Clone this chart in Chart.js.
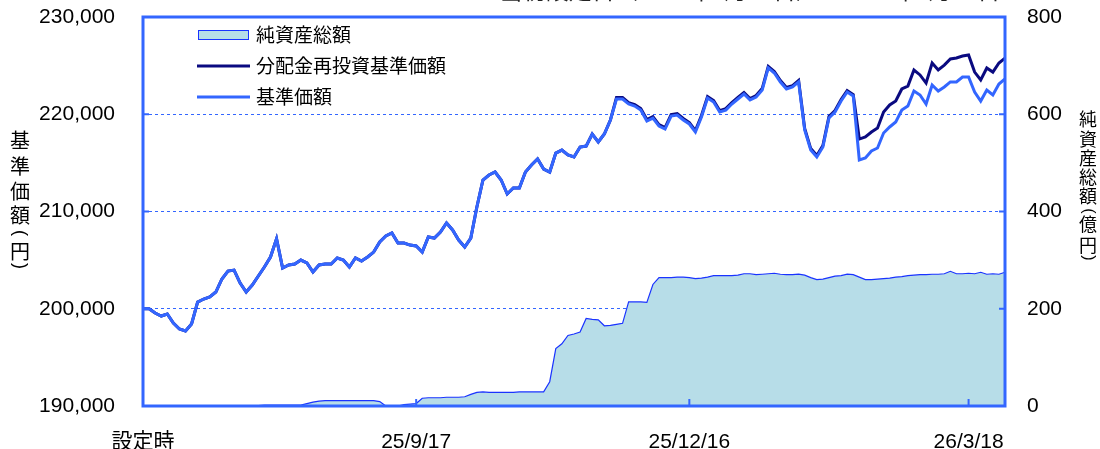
<!DOCTYPE html>
<html>
<head>
<meta charset="utf-8">
<script src="https://cdn.jsdelivr.net/npm/chart.js@4.4.1/dist/chart.umd.min.js"></script>
<style>
  html, body { margin: 0; padding: 0; background: #fff; }
  #wrap { width: 1100px; height: 449px; }
</style>
</head>
<body>
<div id="wrap"><canvas id="chart" width="1100" height="449"></canvas></div>
<script>
// 基準価額（円） - one point about every two calendar days from 設定時
const navValues = [
  200000, 200000, 199560, 199250, 199460, 198530, 197920, 197710, 198430, 200690,
  201000, 201210, 201720, 203060, 203880, 203980, 202640, 201720, 202440, 203370,
  204290, 205320, 207200, 204190, 204500, 204600, 205010, 204710, 203780, 204500,
  204600, 204600, 205220, 205010, 204290, 205220, 204910, 205320, 205830, 206860,
  207480, 207790, 206760, 206760, 206550, 206450, 205830, 207380, 207270, 207890,
  208820, 208100, 207070, 206350, 207270, 210460, 213240, 213750, 214060, 213240,
  211800, 212420, 212420, 214060, 214780, 215400, 214370, 214060, 216010, 216320,
  215810, 215600, 216630, 216730, 217970, 217150, 217970, 219410, 221570, 221570,
  221050, 220840, 220430, 219300, 219610, 218790, 218480, 219820, 219920, 219410,
  219000, 218170, 219720, 221670, 221260, 220230, 220430, 221050, 221570, 222080,
  221470, 221770, 222490, 224760, 224240, 223320, 222600, 222800, 223320, 218380,
  216320, 215600, 216630, 219610, 220230, 221360, 222290, 221880, 215300, 215500,
  216220, 216530, 218070, 218690, 219200, 220430, 220840, 222390, 221980, 221050,
  223010, 222390, 222800, 223320, 223320, 223830, 223830, 222290, 221360, 222490,
  221980, 223110, 223630
];

// 分配金再投資基準価額（円）
const reinvestValues = [
  200000, 200000, 199560, 199250, 199460, 198530, 197920, 197710, 198430, 200690,
  201000, 201210, 201720, 203060, 203880, 203980, 202640, 201720, 202440, 203370,
  204290, 205320, 207200, 204190, 204500, 204600, 205010, 204710, 203780, 204500,
  204600, 204600, 205220, 205010, 204290, 205220, 204910, 205320, 205830, 206860,
  207480, 207790, 206760, 206760, 206550, 206450, 205830, 207380, 207270, 207890,
  208820, 208100, 207070, 206350, 207270, 210460, 213240, 213750, 214060, 213240,
  211800, 212420, 212420, 214060, 214780, 215400, 214370, 214060, 216010, 216320,
  215810, 215600, 216630, 216730, 217970, 217150, 217970, 219410, 221720, 221720,
  221200, 220990, 220580, 219450, 219760, 218940, 218630, 219970, 220070, 219560,
  219150, 218320, 219870, 221820, 221410, 220380, 220580, 221200, 221720, 222230,
  221620, 221920, 222640, 224910, 224390, 223470, 222750, 222950, 223470, 218530,
  216470, 215750, 216780, 219760, 220380, 221510, 222440, 222030, 217450, 217660,
  218170, 218590, 220230, 220950, 221360, 222600, 222900, 224550, 224040, 223210,
  225270, 224550, 225060, 225680, 225780, 225990, 226090, 224340, 223520, 224760,
  224340, 225270, 225780
];

// 純資産総額（億円）
const netAssets = [
  1, 1, 1, 1, 1, 1, 1, 1, 1, 1,
  1, 1, 1, 1, 1, 1, 1, 1, 1, 1,
  2, 2, 2, 2, 2, 2, 2, 5, 8, 10,
  11, 11, 11, 11, 11, 11, 11, 11, 11, 9,
  0, 0, 0, 3, 4, 5, 16, 17, 17, 17,
  18, 18, 18, 19, 24, 28, 29, 28, 28, 28,
  28, 28, 29, 29, 29, 29, 29, 50, 118, 128,
  145, 148, 152, 180, 178, 177, 165, 166, 168, 170,
  214, 214, 214, 213, 250, 264, 264, 264, 265, 265,
  264, 262, 263, 265, 268, 268, 268, 268, 269, 272,
  272, 270, 271, 272, 273, 271, 270, 270, 271, 269,
  264, 260, 261, 264, 267, 268, 271, 270, 265, 260,
  260, 261, 262, 263, 265, 266, 268, 269, 270, 270,
  271, 271, 272, 277, 272, 272, 273, 272, 275, 271,
  272, 271, 275
];

const tickIndex = [0, 45, 90, 136];
const tickText = ['設定時', '25/9/17', '25/12/16', '26/3/18'];
const navTicks = [200000, 210000, 220000];
const assetTicks = [200, 400, 600];

const seriesNames = ['純資産総額', '分配金再投資基準価額', '基準価額'];
const leftTitle = ['基', '準', '価', '額', '(', '円', ')'];
const rightTitle = ['純', '資', '産', '総', '額', '(', '億', '円', ')'];
const topCaption = '当初設定日（2025年6月19日）～2026年3月30日';

const BLUE = '#3366ff';
const NAVY = '#0a0a80';
const FILL = '#b7dde8';
const NUM_FONT = "'Liberation Sans', 'Noto Sans CJK JP', sans-serif";
const JP_FONT = "'Noto Sans CJK JP', sans-serif";

const labels = navValues.map((_, i) => i);

// write a column of characters, turning brackets sideways
function verticalText(ctx, chars, x, ys, size) {
  chars.forEach((ch, k) => {
    if (ch === '(' || ch === ')') {
      ctx.save();
      ctx.font = Math.round(size * 0.9) + "px 'Liberation Sans'";
      ctx.translate(x, ys[k]);
      ctx.rotate(Math.PI / 2);
      ctx.fillText(ch, 0, 0);
      ctx.restore();
    } else {
      ctx.fillText(ch, x, ys[k]);
    }
  });
}

const decorations = {
  id: 'decorations',
  afterDatasetsDraw(chart) {
    const { ctx, chartArea: a, scales } = chart;
    ctx.save();
    ctx.strokeStyle = BLUE;
    ctx.lineWidth = 2;
    const seg = (x1, y1, x2, y2) => { ctx.beginPath(); ctx.moveTo(x1, y1); ctx.lineTo(x2, y2); ctx.stroke(); };
    tickIndex.slice(1).forEach(i => {
      const x = scales.x.getPixelForValue(i);
      seg(x, a.bottom, x, a.bottom - 7);
    });
    navTicks.forEach(v => { const y = scales.y.getPixelForValue(v); seg(a.left, y, a.left + 6, y); });
    assetTicks.forEach(v => { const y = scales.y2.getPixelForValue(v); seg(a.right, y, a.right - 6, y); });
    ctx.lineWidth = 3;
    ctx.strokeRect(a.left, a.top, a.right - a.left, a.bottom - a.top);
    ctx.restore();
  },
  afterDraw(chart) {
    const { ctx } = chart;
    ctx.save();
    // legend
    ctx.fillStyle = FILL;
    ctx.fillRect(198, 30, 50, 9);
    ctx.strokeStyle = '#1a33ff';
    ctx.lineWidth = 1;
    ctx.strokeRect(198.5, 30.5, 50, 9);
    ctx.lineWidth = 3;
    ctx.strokeStyle = NAVY;
    ctx.beginPath(); ctx.moveTo(197, 66); ctx.lineTo(250, 66); ctx.stroke();
    ctx.strokeStyle = BLUE;
    ctx.beginPath(); ctx.moveTo(197, 97); ctx.lineTo(250, 97); ctx.stroke();
    ctx.fillStyle = '#000';
    ctx.font = '19px ' + JP_FONT;
    ctx.textBaseline = 'middle';
    ctx.textAlign = 'left';
    [35, 66, 97].forEach((y, k) => ctx.fillText(seriesNames[k], 256, y));

    // vertical axis titles
    ctx.textAlign = 'center';
    ctx.font = '20px ' + JP_FONT;
    verticalText(ctx, leftTitle, 20, [140, 166, 191, 215, 233, 251, 266], 20);
    ctx.font = '18px ' + JP_FONT;
    verticalText(ctx, rightTitle, 1088, [119, 139, 158, 177, 196, 211, 224, 245, 258], 18);

    // caption clipped by the top edge
    ctx.font = '23px ' + JP_FONT;
    ctx.fillStyle = '#222';
    ctx.textBaseline = 'alphabetic';
    ctx.fillText(topCaption, 750, -1);
    ctx.restore();
  }
};

new Chart(document.getElementById('chart'), {
  type: 'line',
  data: {
    labels: labels,
    datasets: [
      {
        label: seriesNames[2],
        data: navValues,
        yAxisID: 'y',
        borderColor: BLUE,
        borderWidth: 3,
        pointRadius: 0,
        tension: 0,
        fill: false,
        order: 0
      },
      {
        label: seriesNames[1],
        data: reinvestValues,
        yAxisID: 'y',
        borderColor: NAVY,
        borderWidth: 3,
        pointRadius: 0,
        tension: 0,
        fill: false,
        order: 1
      },
      {
        label: seriesNames[0],
        data: netAssets,
        yAxisID: 'y2',
        borderColor: '#1a33ff',
        backgroundColor: FILL,
        borderWidth: 1.2,
        pointRadius: 0,
        tension: 0,
        fill: 'origin',
        order: 2
      }
    ]
  },
  options: {
    responsive: false,
    animation: false,
    devicePixelRatio: 1,
    events: [],
    layout: { padding: { top: 17, left: 0, right: 0, bottom: 0 } },
    plugins: {
      legend: { display: false },
      tooltip: { enabled: false },
      title: { display: false }
    },
    scales: {
      x: {
        type: 'category',
        offset: false,
        grid: { display: false },
        border: { display: false },
        ticks: {
          autoSkip: false,
          maxRotation: 0,
          minRotation: 0,
          padding: 16,
          color: '#000',
          font: { family: NUM_FONT, size: 21 },
          callback(value) {
            const k = tickIndex.indexOf(value);
            return k < 0 ? null : tickText[k];
          }
        },
        afterFit(scale) { scale.height = 43; }
      },
      y: {
        position: 'left',
        min: 190000,
        max: 230000,
        grid: {
          drawTicks: false,
          lineWidth: 1,
          color: ctx => navTicks.includes(ctx.tick.value) ? BLUE : 'rgba(0,0,0,0)'
        },
        border: { display: false, dash: [3, 3] },
        ticks: {
          stepSize: 10000,
          padding: 28,
          color: '#000',
          font: { family: NUM_FONT, size: 21 },
          callback: v => v.toLocaleString('en-US')
        },
        afterFit(scale) {
          scale.width = 143;
          scale.paddingTop = 0;
          scale.paddingBottom = 0;
        }
      },
      y2: {
        position: 'right',
        min: 0,
        max: 800,
        grid: { display: false, drawTicks: false },
        border: { display: false },
        ticks: {
          stepSize: 200,
          padding: 22,
          color: '#000',
          font: { family: NUM_FONT, size: 21 }
        },
        afterFit(scale) {
          scale.width = 95;
          scale.paddingTop = 0;
          scale.paddingBottom = 0;
        }
      }
    }
  },
  plugins: [decorations]
});
</script>
</body>
</html>
